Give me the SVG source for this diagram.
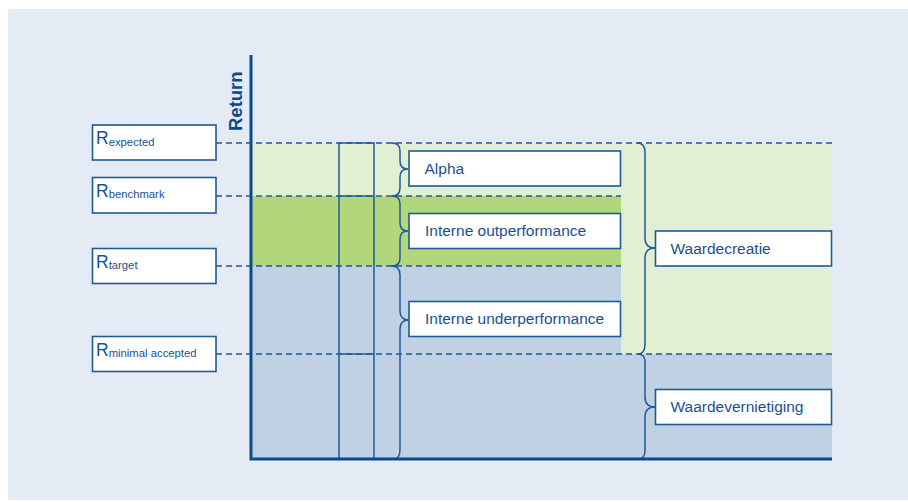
<svg xmlns="http://www.w3.org/2000/svg" width="908" height="502" viewBox="0 0 908 502">
<style>
.box{fill:#ffffff;stroke:#1f5a9a;stroke-width:1.6}
.lbl{font-family:"Liberation Sans",Arial,sans-serif;font-size:15.5px;fill:#1b4f92}
.rl{font-family:"Liberation Sans",Arial,sans-serif;font-size:17.5px;fill:#1b4f92}
.sub{font-size:11.3px}
.dash{stroke:#1f5a9a;stroke-width:1.6;stroke-dasharray:6 4;fill:none}
.brace{fill:none;stroke:#1f5a9a;stroke-width:1.5}
.thin{fill:none;stroke:#1f5a9a;stroke-width:1.5}
.axis{stroke:#0b4a8f;stroke-width:3;fill:none}
</style>
<rect x="0" y="0" width="908" height="502" fill="#ffffff"/>
<rect x="8" y="9" width="900" height="491" fill="#e4ebf4"/>
<g id="regions">
<rect x="251" y="143" width="370" height="53" fill="#e1efd2"/>
<rect x="621" y="143" width="211" height="211" fill="#e1efd2"/>
<rect x="251" y="196" width="370" height="70" fill="#b2d67c"/>
<rect x="251" y="266" width="370" height="88" fill="#bfd1e2"/>
<rect x="251" y="354" width="581" height="105" fill="#bfd1e2"/>
</g>
<g id="connectors">
<path class="dash" d="M216,143 H832 M216,196 H621 M216,266 H621 M216,354 H832"/>
<path class="thin" d="M339,143 H374 V459 M339,143 V459 M339,196 H374 M339,354 H374"/>
<path class="brace" d="M392,143 Q400,143 400,151 V161 Q400,169 408,169 Q400,169 400,177 V188 Q400,196 392,196"/>
<path class="brace" d="M392,196 Q400,196 400,204 V223 Q400,231 408,231 Q400,231 400,239 V258 Q400,266 392,266"/>
<path class="brace" d="M391,266 Q400,266 400,275 V311 Q400,320 409,320 Q400,320 400,329 V449 Q400,459 394,459"/>
<path class="brace" d="M637,143 Q645,143 645,152 V238 Q645,248 655,248 Q645,248 645,258 V344 Q645,354 638,354"/>
<path class="brace" d="M638,354 Q645,354 645,362 V397 Q645,407 655,407 Q645,407 645,417 V450 Q645,459 639,459"/>
<path class="axis" d="M251,55 V459 H832"/>
</g>
<text class="lbl" transform="translate(242,131) rotate(-90)" style="font-size:18.5px;font-weight:bold;fill:#0b4a8f">Return</text>
<g id="r-expected">
<rect class="box" x="92.5" y="125" width="123.5" height="35"/>
<text class="rl" x="96" y="144.3">R<tspan class="sub" dy="1.5">expected</tspan></text>
</g>
<g id="r-benchmark">
<rect class="box" x="92.5" y="177.5" width="123.5" height="35.5"/>
<text class="rl" x="96" y="196.8">R<tspan class="sub" dy="1.5">benchmark</tspan></text>
</g>
<g id="r-target">
<rect class="box" x="92.5" y="248.5" width="123.5" height="35"/>
<text class="rl" x="96" y="267.5">R<tspan class="sub" dy="1.5">target</tspan></text>
</g>
<g id="r-minimal">
<rect class="box" x="92.5" y="336.5" width="123.5" height="35"/>
<text class="rl" x="96" y="355.5">R<tspan class="sub" dy="1.5">minimal accepted</tspan></text>
</g>
<g id="alpha">
<rect class="box" x="409" y="151" width="211.5" height="35"/>
<text class="lbl" x="424.5" y="173.5">Alpha</text>
</g>
<g id="outperformance">
<rect class="box" x="409" y="213.5" width="211.5" height="35"/>
<text class="lbl" x="425" y="236">Interne outperformance</text>
</g>
<g id="underperformance">
<rect class="box" x="409" y="301.5" width="211.5" height="35"/>
<text class="lbl" x="425" y="324">Interne underperformance</text>
</g>
<g id="waardecreatie">
<rect class="box" x="655.5" y="231" width="176" height="35"/>
<text class="lbl" x="670.5" y="253.5">Waardecreatie</text>
</g>
<g id="waardevernietiging">
<rect class="box" x="655.5" y="389.5" width="176" height="35"/>
<text class="lbl" x="670.5" y="412">Waardevernietiging</text>
</g>
</svg>
